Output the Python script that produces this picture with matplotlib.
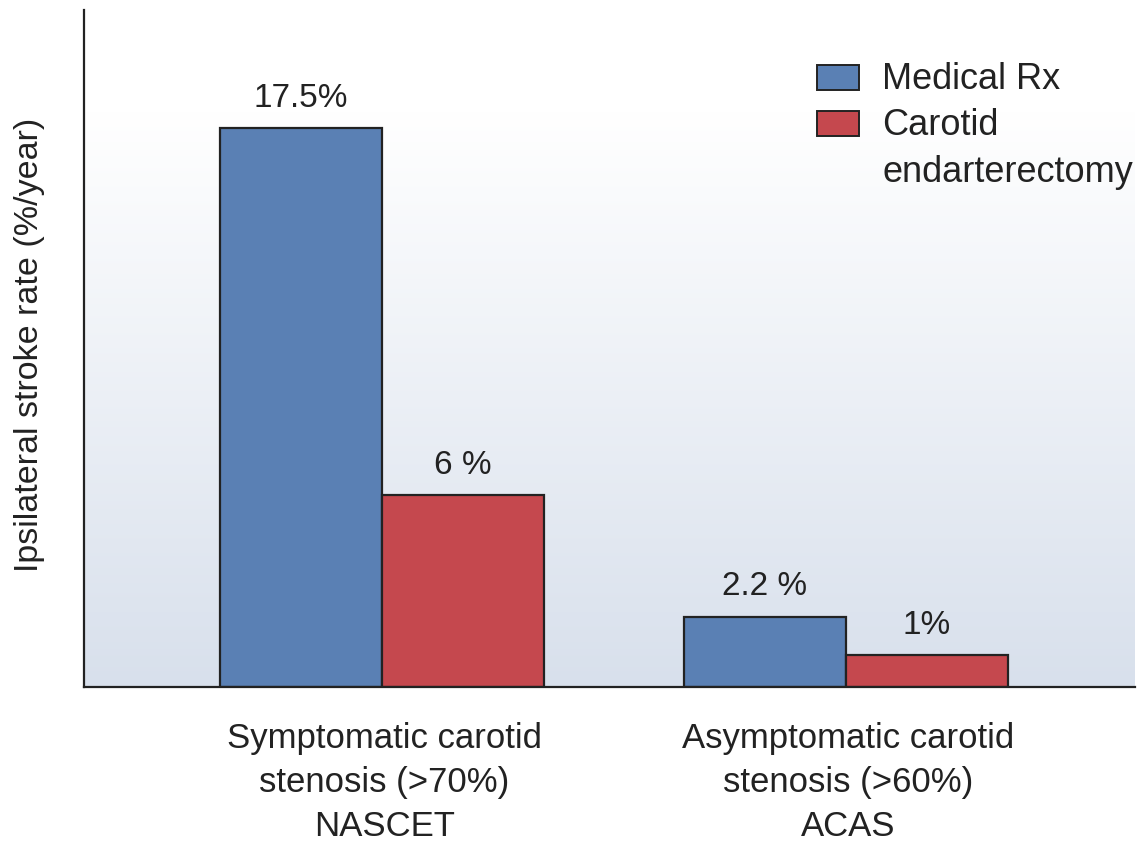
import matplotlib
matplotlib.use("Agg")
import matplotlib.pyplot as plt
import numpy as np
from matplotlib.patches import Rectangle
from matplotlib.colors import LinearSegmentedColormap

plt.rcParams['font.family'] = ['Liberation Sans', 'DejaVu Sans']

categories = ["Symptomatic carotid\nstenosis (>70%)\nNASCET",
              "Asymptomatic carotid\nstenosis (>60%)\nACAS"]
series_names = ["Medical Rx", "Carotid\nendarterectomy"]
medical_rx = [17.5, 2.2]
endarterectomy = [6.0, 1.0]
medical_labels = ["17.5%", "2.2 %"]
endart_labels = ["6 %", "1%"]

blue = "#5A80B4"
red = "#C5484E"
text_col = "#222222"

W, H = 1138, 841
fig = plt.figure(figsize=(W/100, H/100), dpi=100)
ax = fig.add_axes([84/W, 1 - 687/H, (1135-84)/W, (687-10)/H])

# gradient background (white at top, light blue at bottom)
cmap = LinearSegmentedColormap.from_list(
    "bg", [(0.0, "#D8E0EC"), (0.85, "#FFFFFF"), (1.0, "#FFFFFF")])
grad = np.linspace(1, 0, 256).reshape(-1, 1)
ax.imshow(grad, aspect='auto', cmap=cmap, extent=[0, 1, 0, 1],
          transform=ax.transAxes, zorder=0, vmin=0, vmax=1)

x = np.arange(len(categories))
w = 0.349
b1 = ax.bar(x - w/2, medical_rx, w, color=blue, edgecolor=text_col, linewidth=1.6, zorder=2)
b2 = ax.bar(x + w/2, endarterectomy, w, color=red, edgecolor=text_col, linewidth=1.6, zorder=2)

for bars, labels in ((b1, medical_labels), (b2, endart_labels)):
    for rect, lab in zip(bars, labels):
        ax.text(rect.get_x() + rect.get_width()/2, rect.get_height() + 0.45, lab,
                ha='center', va='bottom', fontsize=24, color=text_col, zorder=3)

ax.set_xlim(-0.642, 1.623)
ax.set_ylim(0, 21.2)

for s in ["top", "right"]:
    ax.spines[s].set_visible(False)
for s in ["left", "bottom"]:
    ax.spines[s].set_linewidth(1.6)
    ax.spines[s].set_color(text_col)
ax.set_yticks([])
ax.set_xticks(x + 0.005)
ax.set_xticklabels(categories, fontsize=25, color=text_col, linespacing=1.42)
ax.tick_params(axis='x', length=0, pad=25)

fig.text(30/W, 1 - 345/H, "Ipsilateral stroke rate (%/year)", rotation=90,
         ha='center', va='center', fontsize=24.5, color=text_col)

# manual legend
colors = [blue, red]
patch_tops = [65, 111]
for name, col, top in zip(series_names, colors, patch_tops):
    fig.patches.append(Rectangle((817/W, 1 - (top + 25)/H), 42/W, 25/H,
                                 transform=fig.transFigure, facecolor=col,
                                 edgecolor=text_col, linewidth=1.4, zorder=5))
    fig.text(882/W, 1 - (top - 3)/H, name, ha='left', va='top', fontsize=26,
             color=text_col, linespacing=1.43)

fig.savefig("out.png", dpi=100)
